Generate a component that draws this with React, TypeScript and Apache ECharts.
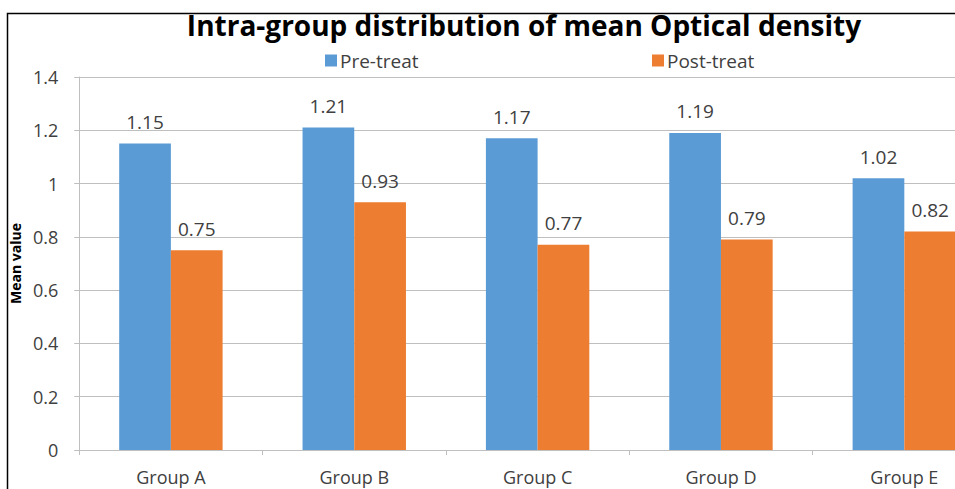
import React, { useEffect, useRef } from "react";
import * as echarts from "echarts";

const categories = ["Group A", "Group B", "Group C", "Group D", "Group E"];
const preTreat = [1.15, 1.21, 1.17, 1.19, 1.02];
const postTreat = [0.75, 0.93, 0.77, 0.79, 0.82];
const seriesNames = ["Pre-treat", "Post-treat"];
const titleText = "Intra-group distribution of mean Optical density";
const yAxisName = "Mean value";

const FONT = "Open Sans";

export default function App() {
  const ref = useRef<HTMLDivElement>(null);
  useEffect(() => {
    if (!ref.current) return;
    const chart = echarts.init(ref.current, null, { renderer: "svg" });
    const labelStyle = {
      show: true,
      position: "top",
      distance: 12,
      fontFamily: FONT,
      fontSize: 19,
      color: "#404040",
      formatter: (p: any) => String(p.value),
    };
    const legendBase = {
      top: 46,
      itemWidth: 12,
      itemHeight: 12,
      icon: "rect",
      textStyle: { fontFamily: FONT, fontSize: 19, color: "#404040", padding: [0, 0, 0, -2] },
    };
    chart.setOption({
      animation: false,
      backgroundColor: "#ffffff",
      title: {
        text: titleText,
        left: 519,
        textAlign: "center",
        top: 6,
        textStyle: { fontFamily: FONT, fontSize: 28, fontWeight: "bold", color: "#000000" },
      },
      legend: [
        { ...legendBase, data: [seriesNames[0]], left: 320 },
        { ...legendBase, data: [seriesNames[1]], left: 647 },
      ],
      grid: { left: 74, top: 77, width: 922, height: 373, containLabel: false },
      xAxis: {
        type: "category",
        data: categories,
        axisLine: { lineStyle: { color: "#bfbfbf", width: 1 } },
        axisTick: { show: true, length: 5, lineStyle: { color: "#bfbfbf" } },
        axisLabel: { fontFamily: FONT, fontSize: 18, color: "#404040", margin: 18 },
      },
      yAxis: {
        type: "value",
        min: 0,
        max: 1.4,
        interval: 0.2,
        name: yAxisName,
        nameLocation: "middle",
        nameGap: 53,
        nameTextStyle: { fontFamily: FONT, fontSize: 14, fontWeight: "bold", color: "#000000" },
        axisLine: { show: true, lineStyle: { color: "#bfbfbf" } },
        axisTick: { show: true, length: 5, lineStyle: { color: "#bfbfbf" } },
        splitLine: { lineStyle: { color: "#bfbfbf" } },
        axisLabel: {
          fontFamily: FONT,
          fontSize: 18,
          color: "#404040",
          margin: 21,
          formatter: (v: number) => String(Math.round(v * 10) / 10),
        },
      },
      series: [
        {
          name: seriesNames[0],
          type: "bar",
          data: preTreat,
          barGap: "0%",
          barCategoryGap: "43.6%",
          itemStyle: { color: "#5b9bd5" },
          label: labelStyle,
        },
        {
          name: seriesNames[1],
          type: "bar",
          data: postTreat,
          itemStyle: { color: "#ed7d31" },
          label: labelStyle,
        },
      ],
      graphic: [
        {
          type: "rect",
          z: 100,
          silent: true,
          shape: { x: 7.5, y: 13.5, width: 1200, height: 800 },
          style: { fill: "none", stroke: "#000000", lineWidth: 1.5 },
        },
      ],
    });
    return () => chart.dispose();
  }, []);
  return (
    <div style={{ position: "fixed", left: 0, top: 0, width: 955, height: 489, overflow: "hidden" }}>
      <div ref={ref} style={{ width: 1010, height: 489 }} />
    </div>
  );
}
